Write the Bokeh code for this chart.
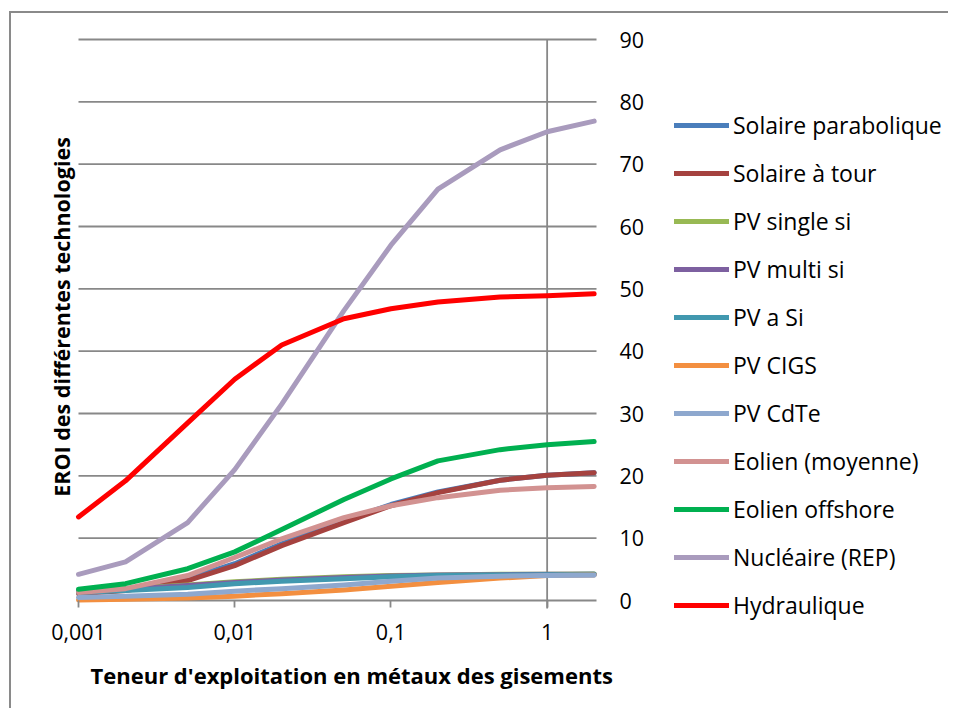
import math
from bokeh.plotting import figure
from bokeh.models import Range1d, FixedTicker, Legend, LegendItem, Title
from bokeh.core.properties import value
from bokeh.embed import file_html
from bokeh.resources import INLINE

# ---- data ----
teneur = [0.001, 0.002, 0.005, 0.01, 0.02, 0.05, 0.1, 0.2, 0.5, 1, 2]

x_ticks = [0.001, 0.01, 0.1, 1]
x_tick_labels = ["0,001", "0,01", "0,1", "1"]
y_ticks = [0, 10, 20, 30, 40, 50, 60, 70, 80, 90]
y_tick_labels = ["0", "10", "20", "30", "40", "50", "60", "70", "80", "90"]

solaire_parabolique = [1.3, 1.8, 3.5, 5.9, 9.1, 12.8, 15.4, 17.4, 19.3, 20.1, 20.5]
solaire_a_tour = [1.1, 1.6, 3.2, 5.6, 8.8, 12.5, 15.2, 17.3, 19.3, 20.1, 20.5]
pv_single_si = [1.6, 1.9, 2.5, 3.0, 3.4, 3.8, 4.0, 4.1, 4.2, 4.2, 4.25]
pv_multi_si = [1.5, 1.8, 2.4, 2.9, 3.3, 3.7, 3.95, 4.1, 4.15, 4.2, 4.2]
pv_a_si = [1.3, 1.6, 2.1, 2.7, 3.1, 3.5, 3.8, 4.0, 4.1, 4.15, 4.2]
pv_cigs = [0.1, 0.2, 0.4, 0.7, 1.1, 1.7, 2.3, 2.9, 3.6, 4.0, 4.1]
pv_cdte = [0.5, 0.7, 1.0, 1.5, 1.9, 2.5, 3.1, 3.6, 3.9, 4.0, 4.05]
eolien_moyenne = [1.3, 1.9, 4.0, 6.9, 9.9, 13.3, 15.2, 16.5, 17.7, 18.1, 18.3]
eolien_offshore = [1.8, 2.7, 5.1, 7.8, 11.4, 16.2, 19.5, 22.4, 24.2, 25.0, 25.5]
nucleaire = [4.2, 6.2, 12.5, 21.0, 31.5, 46.5, 57.0, 66.0, 72.3, 75.2, 76.9]
hydraulique = [13.4, 19.2, 28.5, 35.5, 41.0, 45.2, 46.8, 47.9, 48.7, 48.9, 49.2]

series_names = ["Solaire parabolique", "Solaire à tour", "PV single si", "PV multi si",
                "PV a Si", "PV CIGS", "PV CdTe", "Eolien (moyenne)", "Eolien offshore",
                "Nucléaire (REP)", "Hydraulique"]
series_values = [solaire_parabolique, solaire_a_tour, pv_single_si, pv_multi_si,
                 pv_a_si, pv_cigs, pv_cdte, eolien_moyenne, eolien_offshore,
                 nucleaire, hydraulique]
series_colors = ["#4A7EBB", "#A5423F", "#98B954", "#7D60A0", "#4198AF", "#F38F40",
                 "#8EA8CE", "#D29291", "#00B050", "#A99BBD", "#FF0000"]

x_title = "Teneur d'exploitation en métaux des gisements"
y_title = "EROI des différentes technologies"
x_cross = 1  # value axis crosses the horizontal axis at x = 1

# ---- layout / style ----
FONT = "Open Sans"
GRID = "#888888"
W, H = 939, 697
CANVAS_X, CANVAS_Y = 11, 13                 # page offset of the canvas (margin + border)
PLOT_L, PLOT_R = 78, 596                    # plot area (page px)
PLOT_T, PLOT_B = 39, 600
FRAME_L, FRAME_R = 34, 945                  # frame also hosts labels, title and legend
FRAME_T, FRAME_B = 20, 657
X_MIN, X_MAX = 0.001, 2.07
Y_MIN, Y_MAX = y_ticks[0], y_ticks[-1]

ppd = (PLOT_R - PLOT_L) / math.log10(X_MAX / X_MIN)       # px per decade
x_start = X_MIN / 10 ** ((PLOT_L - FRAME_L) / ppd)
x_end = X_MAX * 10 ** ((FRAME_R - PLOT_R) / ppd)
ppu = (PLOT_B - PLOT_T) / (Y_MAX - Y_MIN)                  # px per EROI unit
y_lo = Y_MIN - (FRAME_B - PLOT_B) / ppu
y_hi = Y_MAX + (PLOT_T - FRAME_T) / ppu

p = figure(width=W, height=H, x_axis_type="log", y_axis_location=None,
           x_range=Range1d(x_start, x_end), y_range=Range1d(y_lo, y_hi),
           output_backend="svg", toolbar_location=None,
           min_border_left=FRAME_L - CANVAS_X, min_border_right=W - (FRAME_R - CANVAS_X),
           min_border_top=FRAME_T - CANVAS_Y, min_border_bottom=H - (FRAME_B - CANVAS_Y))
p.styles = {"margin-left": "9px", "margin-top": "11px",
            "border-left": "2px solid #8a8a8a", "border-top": "2px solid #8a8a8a"}
p.outline_line_color = None
p.background_fill_color = "white"
p.border_fill_color = "white"
p.xgrid.visible = False
p.ygrid.visible = False

# horizontal gridlines (only over the plot area)
n = len(y_ticks)
p.segment(x0=[X_MIN] * n, y0=y_ticks, x1=[X_MAX] * n, y1=y_ticks,
          line_color=GRID, line_width=1.8)

# vertical value-axis line crossing at x = 1 (overhangs a little below 0)
p.segment(x0=[x_cross], y0=[Y_MIN - 8 / ppu], x1=[x_cross], y1=[Y_MAX],
          line_color=GRID, line_width=1.8)

# right-hand value labels
p.text(x=[X_MAX] * n, y=y_ticks, text=y_tick_labels, x_offset=23,
       text_align="left", text_baseline="middle",
       text_font=value(FONT), text_font_size="21.5px", text_color="black")

# y title (rotated, left of the plot area)
p.text(x=[X_MIN], y=[(Y_MIN + Y_MAX) / 2], text=[y_title], x_offset=-17, y_offset=-3,
       angle=math.pi / 2, text_align="center", text_baseline="middle",
       text_font=value(FONT), text_font_style="bold", text_font_size="21.5px",
       text_color="black")

# x axis at y = 0 (ticks + labels; the 0 gridline is the axis line)
xa = p.xaxis[0]
xa.fixed_location = 0
xa.ticker = FixedTicker(ticks=x_ticks)
xa.major_label_overrides = dict(zip(x_ticks, x_tick_labels))
xa.axis_line_color = None
xa.major_tick_line_color = GRID
xa.major_tick_line_width = 1.8
xa.major_tick_out = 7
xa.major_tick_in = 0
xa.minor_tick_line_color = None
xa.major_label_standoff = 16
xa.major_label_text_font = FONT
xa.major_label_text_font_size = "21.5px"
xa.major_label_text_color = "black"

# x axis title (aligned under the plot area)
p.add_layout(Title(text=x_title, align="left", offset=PLOT_L - FRAME_L + 12, standoff=0,
                   text_font=FONT, text_font_style="bold", text_font_size="22px",
                   text_color="black"), "below")

items = []
for name, vals, col in zip(series_names, series_values, series_colors):
    r = p.line(teneur, vals, line_color=col, line_width=5,
               line_cap="round", line_join="round")
    items.append(LegendItem(label=name, renderers=[r]))

legend = Legend(items=items, location=(596 + PLOT_L - FRAME_L, 39 - (660 - FRAME_B)),
                orientation="vertical",
                glyph_width=55, glyph_height=20, label_height=20,
                label_standoff=4, spacing=16, padding=0, margin=0,
                border_line_color=None, background_fill_alpha=0,
                label_text_font=FONT, label_text_font_size="23px",
                label_text_color="black")
p.add_layout(legend, "center")

open("out.html", "w").write(file_html(p, INLINE))
